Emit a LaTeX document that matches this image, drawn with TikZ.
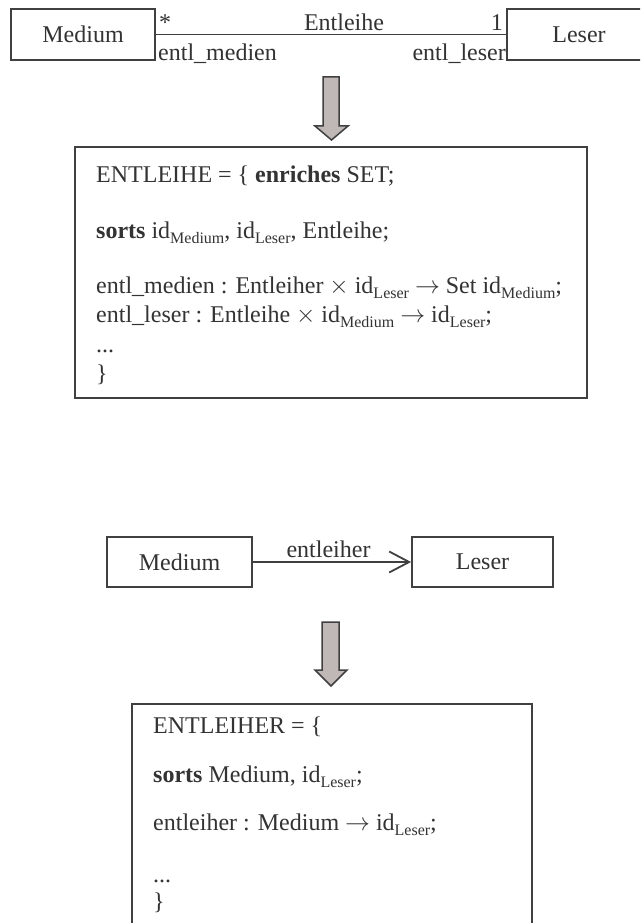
\documentclass[tikz,border=0pt]{standalone}
\usepackage{fontspec}
\setmainfont{Liberation Serif}
\usetikzlibrary{arrows.meta}
\definecolor{ink}{HTML}{333333}
\definecolor{frame}{HTML}{404040}
\definecolor{arrowfill}{HTML}{C0B8B6}
% lowered, smaller index text such as id_Leser
\newcommand\lowidx[1]{\raisebox{-5pt}{\fontsize{16}{16}\selectfont #1}}
\begin{document}
\begin{tikzpicture}[x=1pt,y=-1pt,
  font=\fontsize{24}{28}\selectfont,
  every node/.style={text=ink, inner sep=0pt},
  classbox/.style={draw=frame, line width=1.8pt, minimum height=51pt},
  assoc/.style={draw=frame, line width=1.8pt},
  bigarrow/.style={draw=frame, line width=1.5pt, fill=arrowfill, line join=miter},
  specbox/.style={draw=frame, line width=1.8pt},
  spec/.style={anchor=base west}]
\fill[white] (0,0) rectangle (640,923);
\useasboundingbox (0,0) rectangle (640,923);
\clip (0,0) rectangle (640,923);

% ---- association with role names ----
\node[classbox, minimum width=144pt] (med1) at (83,34.5) {Medium};
\node[classbox, minimum width=144pt] (les1) at (579,34.5) {Leser};
\draw[assoc] (med1.east) -- (les1.west);
\node[anchor=base west] (mult1) at (159,31) {*};
\node[anchor=base] (aname) at (344,31) {Entleihe};
\node[anchor=base east] (mult2) at (503,31) {1};
\node[anchor=base west] (role1) at (158,61) {entl\_medien};
\node[anchor=base east] (role2) at (506,61) {entl\_leser};

% ---- translation arrow ----
\draw[bigarrow] (323,77) -- (339,77) -- (339,126) -- (348,126) -- (331.5,140)
  -- (315,126) -- (323,126) -- cycle;

% ---- specification ENTLEIHE ----
\node[specbox, minimum width=512pt, minimum height=251pt] (spec1) at (331,272.5) {};
\node[spec] (e1) at (96,182) {ENTLEIHE = \{ \textbf{enriches} SET;};
\node[spec] (e2) at (96,238) {\textbf{sorts} id\lowidx{Medium}, id\lowidx{Leser}, Entleihe;};
\node[spec] (e3) at (96,293) {entl\_medien : Entleiher $\times$ id\lowidx{Leser} $\rightarrow$ Set id\lowidx{Medium};};
\node[spec] (e4) at (96,322) {entl\_leser : Entleihe $\times$ id\lowidx{Medium} $\rightarrow$ id\lowidx{Leser};};
\node[spec] (e5) at (96,352) {...};
\node[spec] (e6) at (96,381) {\}};

% ---- directed association ----
\node[classbox, minimum width=145pt, minimum height=50pt] (med2) at (179.5,562) {Medium};
\node[classbox, minimum width=141pt, minimum height=50pt] (les2) at (482.5,562) {Leser};
\draw[assoc, -{Straight Barb[length=20pt,width=21pt]}] (med2) -- (les2);
\node[anchor=base] (aname2) at (328.5,557) {entleiher};

% ---- translation arrow ----
\draw[bigarrow] (322,622) -- (339,622) -- (339,670) -- (347,670) -- (331,686)
  -- (315,670) -- (322,670) -- cycle;

% ---- specification ENTLEIHER ----
\node[specbox, minimum width=400pt, minimum height=240pt] (spec2) at (332,824) {};
\node[spec] (f1) at (153,733) {ENTLEIHER = \{};
\node[spec] (f2) at (153,782) {\textbf{sorts} Medium, id\lowidx{Leser};};
\node[spec] (f3) at (153,830) {entleiher : Medium $\rightarrow$ id\lowidx{Leser};};
\node[spec] (f4) at (153,882) {...};
\node[spec] (f5) at (153,909) {\}};
\end{tikzpicture}
\end{document}
